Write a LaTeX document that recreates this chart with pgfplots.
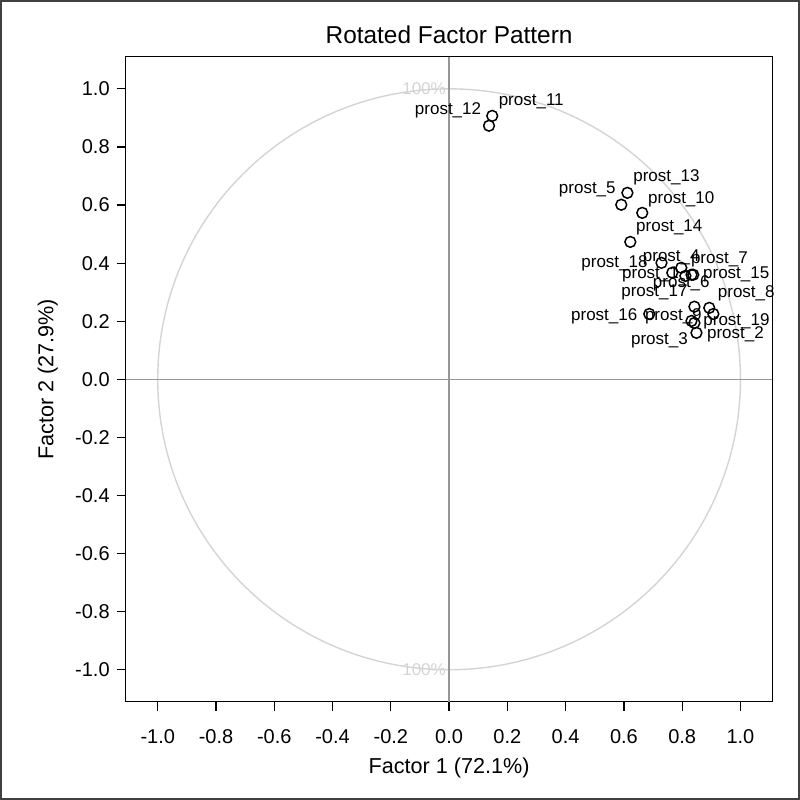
\documentclass[border=0pt]{standalone}
\usepackage{fontspec}
\setmainfont{Liberation Sans}
\usepackage{pgfplots}
\pgfplotsset{compat=1.18}
\usepackage{pgfplotstable}

\pgfplotstableread{
n  x      y      dx     dy
1  0.832  0.360  -20.5  0
2  0.849  0.160  19.5   -1
3  0.842  0.194  -17.5  -8.5
4  0.766  0.367  -0.5   7.5
5  0.591  0.601  -17    7.5
6  0.797  0.384  0      -8
7  0.811  0.356  17     8
8  0.893  0.246  18.5   7.5
9  0.907  0.225  -20    -1
10 0.663  0.573  19.5   7
11 0.148  0.907  19.5   7
12 0.137  0.873  -20.5  7.5
13 0.612  0.642  19.5   8
14 0.622  0.473  19.5   7.5
15 0.838  0.360  21.5   0
16 0.687  0.225  -22.5  -1
17 0.842  0.250  -20    7
18 0.729  0.401  -23.5  0
19 0.832  0.201  22.5   0
}\loadings

\definecolor{refgray}{RGB}{150,150,150}
\definecolor{circgray}{RGB}{212,212,212}

\begin{document}
\begin{tikzpicture}
\useasboundingbox (0,0) rectangle (400pt,400pt);
\draw[line width=1pt, black!75] (0.5pt,0.5pt) rectangle (399.5pt,399.5pt);
\begin{axis}[
  at={(62.85pt,49.15pt)}, anchor=south west,
  scale only axis, width=323.4pt, height=322.4pt,
  xmin=-1.11, xmax=1.11, ymin=-1.11, ymax=1.11,
  xtick={-1,-0.8,-0.6,-0.4,-0.2,0,0.2,0.4,0.6,0.8,1},
  ytick={-1,-0.8,-0.6,-0.4,-0.2,0,0.2,0.4,0.6,0.8,1},
  tick align=outside, xtick pos=left, ytick pos=left,
  major tick length=4.5pt,
  tick style={black, line width=0.6pt},
  axis line style={black, line width=0.6pt},
  ticklabel style={font=\fontsize{10}{12}\selectfont},
  xticklabel style={yshift=-6pt},
  /pgf/number format/fixed, /pgf/number format/fixed zerofill,
  /pgf/number format/precision=1, /pgf/number format/assume math mode=true,
  title={Rotated Factor Pattern},
  title style={font=\fontsize{12.2}{14}\selectfont, at={(0.5,1)}, anchor=base, yshift=0.5pt},
  xlabel={Factor 1 (72.1\%)}, ylabel={Factor 2 (27.9\%)},
  label style={font=\fontsize{10.8}{13}\selectfont},
  ylabel style={yshift=1.8pt},
  clip=false,
]
\draw[circgray, line width=0.7pt] (axis cs:0,0) ellipse [x radius=1, y radius=1];
\draw[refgray, line width=0.6pt] (axis cs:0,-1.11) -- (axis cs:0,1.11);
\draw[refgray, line width=0.6pt] (axis cs:-1.11,0) -- (axis cs:1.11,0);
\node[text=circgray, font=\fontsize{8.5}{10}\selectfont] at (axis cs:-0.086,1.0) {100\%};
\node[text=circgray, font=\fontsize{8.5}{10}\selectfont] at (axis cs:-0.086,-1.0) {100\%};
\addplot[only marks, mark=o, mark size=2.7pt, black, line width=0.75pt,
  point meta=explicit symbolic,
  visualization depends on={\thisrow{dx}\as\labdx},
  visualization depends on={\thisrow{dy}\as\labdy},
  nodes near coords={prost\_\pgfplotspointmeta},
  nodes near coords style={anchor=center, xshift=\labdx pt, yshift=\labdy pt,
    font=\fontsize{8.5}{10}\selectfont, text=black, inner sep=0pt},
] table[x=x, y=y, meta=n] {\loadings};
\end{axis}
\end{tikzpicture}
\end{document}
